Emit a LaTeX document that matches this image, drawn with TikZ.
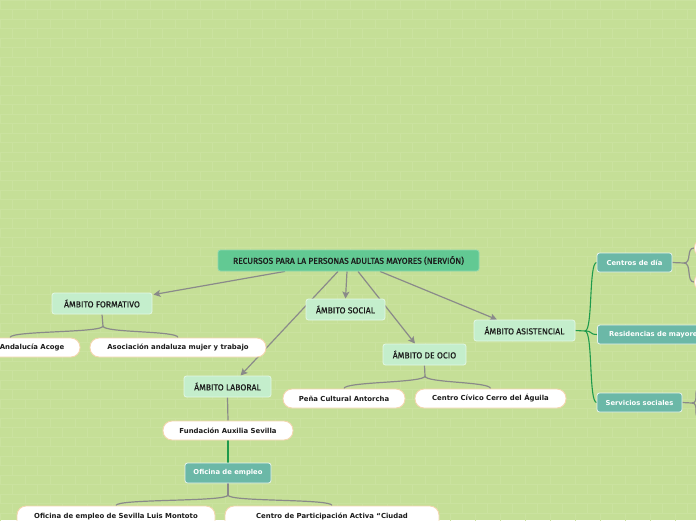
\documentclass[tikz,border=0pt]{standalone}
\usepackage{fontspec}
\usetikzlibrary{arrows.meta,calc}
\newfontfamily\ambfont{Fira Sans}[FakeBold=0.6]
\newfontfamily\rootfont{Fira Sans}[FakeBold=1.2]
\newfontfamily\leaffont{DejaVu Sans}
\definecolor{bgc}{HTML}{C5DF97}
\definecolor{brickc}{HTML}{CAE29F}
\definecolor{rootc}{HTML}{62C993}
\definecolor{rootb}{HTML}{8ED8B0}
\definecolor{mint}{HTML}{C4EECC}
\definecolor{mintb}{HTML}{E2F7E6}
\definecolor{tealc}{HTML}{6BB8A7}
\definecolor{tealb}{HTML}{E6F3EF}
\definecolor{peach}{HTML}{F3D6AE}
\definecolor{conn}{HTML}{8A8A8A}
\definecolor{greenc}{HTML}{1E9A4C}
\definecolor{txt}{HTML}{1C1C1C}
\pgfdeclarelayer{back}\pgfdeclarelayer{edges}
\pgfsetlayers{back,edges,main}
\tikzset{
  rootbox/.style={rectangle, rounded corners=2.5pt, fill=rootc, draw=rootb, line width=0.8pt,
    minimum height=21pt, inner sep=0pt, text=txt, font=\rootfont\fontsize{8.5}{9}\selectfont},
  mainbox/.style={rectangle, rounded corners=2.5pt, fill=mint, draw=mintb, line width=0.8pt,
    minimum height=21pt, inner sep=0pt, text=txt, font=\ambfont\fontsize{8.6}{9}\selectfont},
  leafbox/.style={rectangle, rounded corners=9pt, fill=white, draw=peach, line width=0.9pt,
    minimum height=19pt, inner sep=0pt, text=txt, font=\leaffont\bfseries\fontsize{6.9}{8}\selectfont},
  tealbox/.style={rectangle, rounded corners=2.5pt, fill=tealc, draw=tealb, line width=0.8pt,
    minimum height=20pt, inner sep=0pt, text=white, font=\leaffont\bfseries\fontsize{6.8}{8}\selectfont},
  link/.style={draw=conn, line width=1.2pt},
  arr/.style={link, -{Stealth[length=7pt,width=7pt,inset=1.5pt]}},
  glink/.style={draw=greenc, line width=1.1pt},
  brace/.style={to path={.. controls ($(\tikztostart)+(0,7)$) and ($(\tikztotarget)+(0,-7)$) .. (\tikztotarget)}},
  hbrace/.style={to path={.. controls ($(\tikztostart)+(8,0)$) and ($(\tikztotarget)+(-8,0)$) .. (\tikztotarget)}},
  brick/.style={draw=brickc, line width=0.5pt}
}
\begin{document}
\begin{tikzpicture}[x=1pt,y=-1pt]
\useasboundingbox (0,0) rectangle (696,520);
\clip (0,0) rectangle (696,520);
\begin{pgfonlayer}{back}
  \fill[bgc] (0,0) rectangle (696,520);
  \foreach \r in {0,...,55}{
    \draw[brick] (0,\r*9.5) -- (696,\r*9.5);
    \foreach \c in {0,...,28}{
      \draw[brick] ({\c*25+mod(\r,2)*12.5},\r*9.5) -- ++(0,9.5);
    }
  }
\end{pgfonlayer}

% nodes
\node[rootbox, minimum width=261pt] (root) at (348.5,260.5) {RECURSOS PARA LA PERSONAS ADULTAS MAYORES (NERVIÓN)};
\node[mainbox, minimum width=100pt] (form) at (102,303.5) {ÁMBITO FORMATIVO};
\node[mainbox, minimum width=79pt] (social) at (345.5,309.5) {ÁMBITO SOCIAL};
\node[mainbox, minimum width=83pt] (ocio) at (424.5,354.5) {ÁMBITO DE OCIO};
\node[mainbox, minimum width=87pt] (lab) at (227.5,386.5) {ÁMBITO LABORAL};
\node[mainbox, minimum width=101pt] (asis) at (524.5,330.5) {ÁMBITO ASISTENCIAL};

\node[leafbox, minimum width=96pt] (acoge) at (32,347.5) {Andalucía Acoge};
\node[leafbox, minimum width=176pt] (amujer) at (178,347.5) {Asociación andaluza mujer y trabajo};
\node[leafbox, minimum width=122pt] (pena) at (344,398.5) {Peña Cultural Antorcha};
\node[leafbox, minimum width=151pt] (civico) at (490.5,398.5) {Centro Cívico Cerro del Águila};
\node[leafbox, minimum width=130pt] (fund) at (228,430.5) {Fundación Auxilia Sevilla};
\node[tealbox, minimum width=86pt] (ofi) at (228,473) {Oficina de empleo};
\node[leafbox, minimum width=198pt, minimum height=30pt, text depth=11pt] (montoto) at (116,521) {Oficina de empleo de Sevilla Luis Montoto};
\node[leafbox, minimum width=214pt, minimum height=30pt, text depth=11pt] (cpa) at (332,521) {Centro de Participación Activa “Ciudad};

\node[tealbox, minimum width=75pt, minimum height=19pt] (cdia) at (634.5,262.5) {Centros de día};
\node[tealbox, minimum width=110pt, minimum height=19pt, anchor=west] (resid) at (597,334.5) {\hspace*{6pt}Residencias de mayores\hfill};
\node[tealbox, minimum width=85pt, minimum height=19pt] (ssoc) at (639.5,402.5) {Servicios sociales};

\node[leafbox, minimum width=100pt, anchor=west] (cd1) at (694,248) {};
\node[leafbox, minimum width=100pt, anchor=west] (cd2) at (694,282) {};
\node[leafbox, minimum width=100pt, anchor=west] (ss1) at (700,388) {};
\node[leafbox, minimum width=100pt, anchor=west] (ss2) at (700,418) {};

\coordinate (fj) at (103,326);
\coordinate (oj) at (425,376);
\coordinate (ej) at (228,495);
\coordinate (aj) at (585,331);
\coordinate (cj) at (684,263);
\coordinate (sj) at (692,403);

\begin{pgfonlayer}{edges}
  \draw[arr] ([xshift=-63.5pt]root.south) -- ([xshift=1pt,yshift=-2pt]form.north east);
  \draw[arr] ([xshift=-1.5pt]root.south) -- (social.north);
  \draw[arr] ([xshift=-10.5pt]root.south) -- ([xshift=13pt]lab.north);
  \draw[arr] ([xshift=9.5pt]root.south) -- ([xshift=-9.5pt]ocio.north);
  \draw[arr] ([xshift=31.5pt]root.south) -- ([xshift=-27.5pt]asis.north);

  \draw[link] (form.south) -- (fj);
  \draw[link] (fj) to[brace] ([xshift=-22pt]acoge.north);
  \draw[link] (fj) to[brace] (amujer.north);

  \draw[link] (ocio.south) -- (oj);
  \draw[link] (oj) to[brace] (pena.north);
  \draw[link] (oj) to[brace] (civico.north);

  \draw[link] (lab.south) -- (fund.north);
  \draw[glink] (fund.south) -- (ofi.north);
  \draw[link] (ofi.south) -- (ej);
  \draw[link] (ej) to[brace] (montoto.north);
  \draw[link] (ej) to[brace] (cpa.north);

  \draw[glink] (asis.east) -- (aj);
  \draw[glink] (aj) to[hbrace] (cdia.west);
  \draw[glink] (aj) to[hbrace] (resid.west);
  \draw[glink] (aj) to[hbrace] (ssoc.west);

  \draw[link] (cdia.east) -- (cj);
  \draw[link] (cj) to[hbrace] (cd1.west);
  \draw[link] (cj) to[hbrace] (cd2.west);
  \draw[link] (ssoc.east) -- (sj);
  \draw[link] (sj) to[hbrace] (ss1.west);
  \draw[link] (sj) to[hbrace] (ss2.west);
\end{pgfonlayer}
\end{tikzpicture}
\end{document}
